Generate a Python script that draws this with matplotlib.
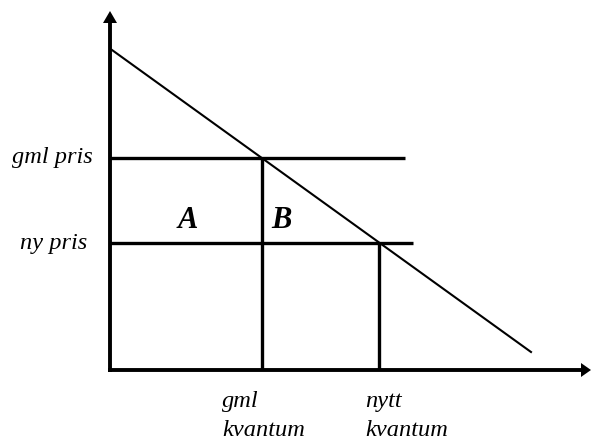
import matplotlib
matplotlib.use("Agg")
import matplotlib.pyplot as plt
from matplotlib.patches import Polygon

# Schematic values (quantity, price) in chart units; origin = axes corner
demand_q = [2, 421]
demand_p = [320, 18]
old_price = 212
new_price = 127
old_qty = 152
new_qty = 269
old_price_line_end = 295
new_price_line_end = 303
yaxis_top = 359
xaxis_right = 481

price_labels = ["gml pris", "ny pris"]
qty_labels = ["gml\nkvantum", "nytt\nkvantum"]
area_labels = ["A", "B"]

W, H = 591, 443
fig = plt.figure(figsize=(W / 100, H / 100), dpi=100)
ax = fig.add_axes([0, 0, 1, 1])
ax.set_xlim(-110, W - 110)
ax.set_ylim(-(H - 370), 370)
ax.axis("off")

serif = ["Liberation Serif", "DejaVu Serif"]
lw_axis = 2.8
lw_thick = 2.4
lw_thin = 1.5

# axes lines
ax.plot([0, 0], [-1.5, yaxis_top - 11], color="black", lw=lw_axis, solid_capstyle="butt")
ax.plot([-1.5, xaxis_right - 9], [0, 0], color="black", lw=lw_axis, solid_capstyle="butt")
# arrow heads
ax.add_patch(Polygon([[0, yaxis_top], [-7, yaxis_top - 12], [7, yaxis_top - 12]],
                     closed=True, color="black", lw=0))
ax.add_patch(Polygon([[xaxis_right, 0], [xaxis_right - 10, 7], [xaxis_right - 10, -7]],
                     closed=True, color="black", lw=0))

# demand line
ax.plot(demand_q, demand_p, color="black", lw=lw_thin)

# price lines
ax.plot([0, old_price_line_end], [old_price, old_price], color="black", lw=lw_thick, solid_capstyle="butt")
ax.plot([0, new_price_line_end], [new_price, new_price], color="black", lw=lw_thick, solid_capstyle="butt")
# quantity lines
ax.plot([old_qty, old_qty], [0, old_price], color="black", lw=lw_thick, solid_capstyle="butt")
ax.plot([new_qty, new_qty], [0, new_price], color="black", lw=lw_thick, solid_capstyle="butt")

fs = 17.6
ax.text(-98, old_price, price_labels[0], ha="left", va="center", fontsize=fs,
        style="italic", family=serif)
ax.text(-90, new_price, price_labels[1], ha="left", va="center", fontsize=fs,
        style="italic", family=serif)

ax.text(78, 150, area_labels[0], ha="center", va="center", fontsize=22,
        style="italic", weight="bold", family=serif)
ax.text(171, 150, area_labels[1], ha="center", va="center", fontsize=22,
        style="italic", weight="bold", family=serif)

ax.text(112, -21, qty_labels[0], ha="left", va="top", fontsize=fs,
        style="italic", family=serif, linespacing=1.5)
ax.text(255, -21, qty_labels[1], ha="left", va="top", fontsize=fs,
        style="italic", family=serif, linespacing=1.5)

fig.savefig("out.png", dpi=100)
